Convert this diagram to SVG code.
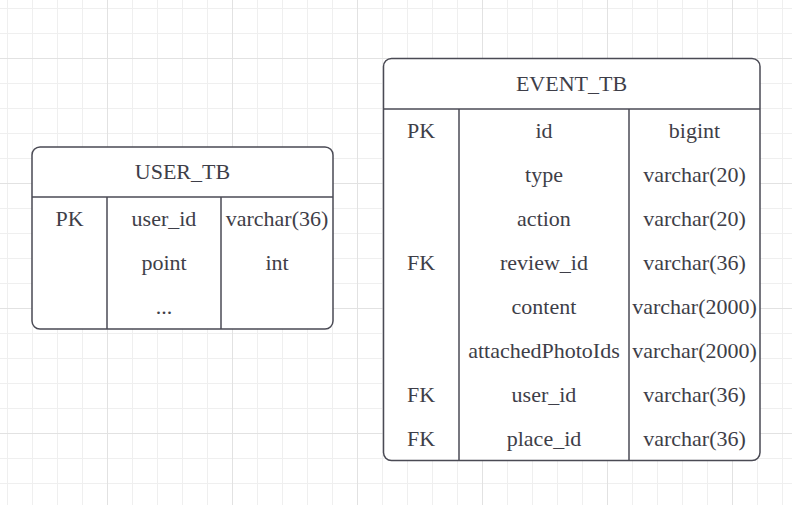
<svg xmlns="http://www.w3.org/2000/svg" width="792" height="505" viewBox="0 0 792 505">
<defs>
<pattern id="minor" x="7" y="8" width="25" height="25" patternUnits="userSpaceOnUse">
<path d="M0.5 0V25M0 0.5H25" fill="none" stroke="#efefef" stroke-width="1"/>
</pattern>
<pattern id="major" x="107" y="58" width="125" height="125" patternUnits="userSpaceOnUse">
<path d="M0.5 0V125M0 0.5H125" fill="none" stroke="#e2e2e2" stroke-width="1"/>
</pattern>
</defs>
<style>
.box{fill:#ffffff;stroke:#4a4a54;stroke-width:1.5}
.ln{stroke:#4a4a54;stroke-width:1.5;fill:none}
text{font-family:"Liberation Serif","Times New Roman",serif;font-size:22px;fill:#3e3e48;text-anchor:middle}
</style>
<rect width="792" height="505" fill="#ffffff"/>
<rect width="792" height="505" fill="url(#minor)"/>
<rect width="792" height="505" fill="url(#major)"/>
<g id="connectors"></g>
<g id="USER_TB">
<rect class="box" x="32" y="147" width="301" height="182" rx="8"/>
<line class="ln" x1="32" y1="197" x2="333" y2="197"/>
<line class="ln" x1="107" y1="197" x2="107" y2="329"/>
<line class="ln" x1="221" y1="197" x2="221" y2="329"/>
<text x="182.5" y="178.5">USER_TB</text>
<text x="69.5" y="225.5">PK</text>
<text x="164" y="225.5">user_id</text>
<text x="277" y="225.5">varchar(36)</text>
<text x="164" y="269.5">point</text>
<text x="277" y="269.5">int</text>
<text x="164" y="313.5">...</text>
</g>
<g id="EVENT_TB">
<rect class="box" x="383.5" y="58.5" width="376.5" height="402" rx="8"/>
<line class="ln" x1="383.5" y1="109" x2="760" y2="109"/>
<line class="ln" x1="459" y1="109" x2="459" y2="460.5"/>
<line class="ln" x1="629" y1="109" x2="629" y2="460.5"/>
<text x="571.5" y="90.5">EVENT_TB</text>
<text x="421" y="137.5">PK</text>
<text x="544" y="137.5">id</text>
<text x="694.5" y="137.5">bigint</text>
<text x="544" y="181.5">type</text>
<text x="694.5" y="181.5">varchar(20)</text>
<text x="544" y="225.5">action</text>
<text x="694.5" y="225.5">varchar(20)</text>
<text x="421" y="269.5">FK</text>
<text x="544" y="269.5">review_id</text>
<text x="694.5" y="269.5">varchar(36)</text>
<text x="544" y="313.5">content</text>
<text x="694.5" y="313.5">varchar(2000)</text>
<text x="544" y="357.5">attachedPhotoIds</text>
<text x="694.5" y="357.5">varchar(2000)</text>
<text x="421" y="401.5">FK</text>
<text x="544" y="401.5">user_id</text>
<text x="694.5" y="401.5">varchar(36)</text>
<text x="421" y="445.5">FK</text>
<text x="544" y="445.5">place_id</text>
<text x="694.5" y="445.5">varchar(36)</text>
</g>
</svg>
